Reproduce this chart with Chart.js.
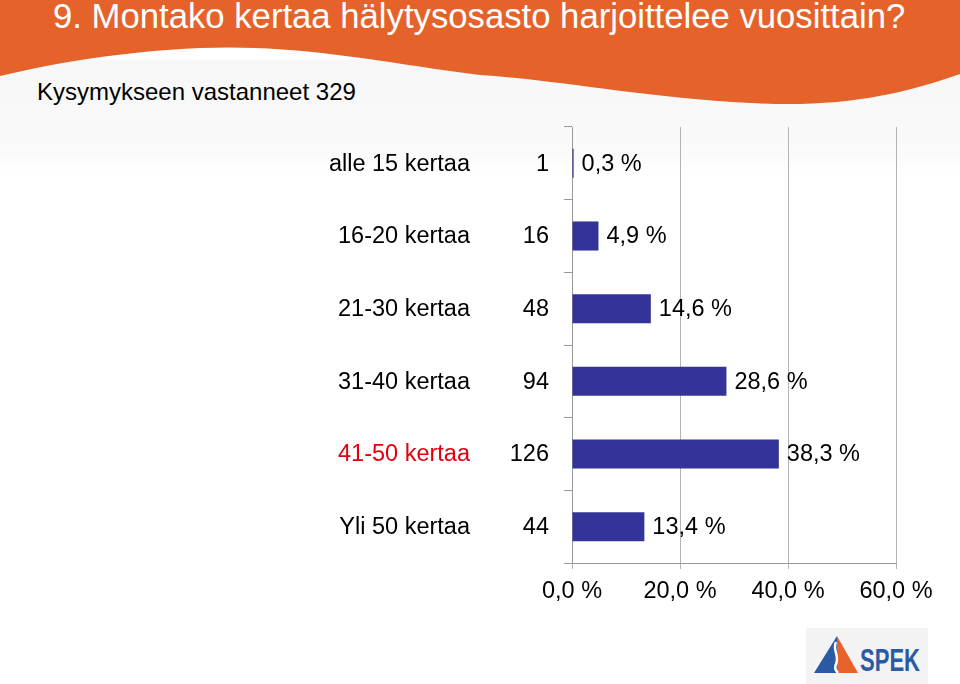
<!DOCTYPE html>
<html>
<head>
<meta charset="utf-8">
<script src="https://cdn.jsdelivr.net/npm/chart.js@4.4.1/dist/chart.umd.min.js"></script>
<style>
    body { margin: 0; background: #fff; }
    #wrap { position: relative; width: 960px; height: 684px; overflow: hidden; font-family: "Liberation Sans", Arial, sans-serif; }
    #band { position: absolute; left: 0; top: 60px; width: 960px; height: 116px; background: linear-gradient(#f7f7f7, #fafafa 80%, #fff); }
    #head { position: absolute; left: 0; top: 0; }
    #title { position: absolute; left: 53px; top: -1px; font-size: 34.7px; line-height: 1; color: #fff; white-space: nowrap; }
    #sub { position: absolute; left: 37px; top: 80px; font-size: 24px; line-height: 1; color: #000; white-space: nowrap; }
    #chartBox { position: absolute; left: 0; top: 0; width: 960px; height: 684px; }
    #logo { position: absolute; left: 806px; top: 628px; }
</style>
</head>
<body>
<div id="wrap">
    <div id="band"></div>
    <svg id="head" width="960" height="110">
        <path d="M0,0 H960 V74 C900,95 840,108 750,103 C640,97 560,80 480,75 C380,62 300,44 200,48 C120,52 60,62 0,76 Z" fill="#e5632a"/>
    </svg>
    <div id="title">9. Montako kertaa hälytysosasto harjoittelee vuosittain?</div>
    <div id="sub">Kysymykseen vastanneet 329</div>
    <div id="chartBox"><canvas id="myChart"></canvas></div>
    <svg id="logo" width="122" height="56">
        <rect x="0" y="0" width="122" height="56" fill="#f3f3f3"/>
        <polygon points="31,8 8,45 31,45" fill="#2b5aa5"/>
        <polygon points="31,8 52,45 31,45" fill="#e8632b"/>
        <path d="M30,14 C26,22 34,28 30,36 C28,40 30,43 32,45" stroke="#fff" stroke-width="2.5" fill="none"/>
        <text x="54" y="43" font-family="Liberation Sans, Arial, sans-serif" font-weight="bold" font-size="31" fill="#2b5aa5" textLength="60" lengthAdjust="spacingAndGlyphs">SPEK</text>
    </svg>
</div>
<script>
const categories = ["alle 15 kertaa", "16-20 kertaa", "21-30 kertaa", "31-40 kertaa", "41-50 kertaa", "Yli 50 kertaa"]
const counts = [1, 16, 48, 94, 126, 44]
const percents = [0.3, 4.9, 14.6, 28.6, 38.3, 13.4]
const xTicks = [0, 20, 40, 60]
const redCategory = "41-50 kertaa"

const fontFamily = '"Liberation Sans", Arial, sans-serif'

function pct(v) {
    return v.toFixed(1).replace('.', ',') + ' %'
}

const barLabels = {
    id: 'barLabels',
    afterDatasetsDraw(chart) {
        const ctx = chart.ctx
        const meta = chart.getDatasetMeta(0)
        ctx.save()
        ctx.font = '23.5px ' + fontFamily
        ctx.fillStyle = '#000'
        ctx.textAlign = 'left'
        ctx.textBaseline = 'middle'
        meta.data.forEach((bar, i) => {
            ctx.fillText(pct(percents[i]), bar.x + 8, bar.y + 1)
        })
        ctx.restore()
    }
}

new Chart("myChart", {
    type: "bar",
    data: {
        labels: counts.map(String),
        datasets: [{
            backgroundColor: '#333399',
            data: percents,
            categoryPercentage: 1,
            barPercentage: 0.4
        }]
    },
    options: {
        indexAxis: 'y',
        responsive: true,
        maintainAspectRatio: false,
        animation: false,
        layout: {
            padding: { top: 127, right: 64, bottom: 61, left: 0 }
        },
        scales: {
            x: {
                min: 0,
                max: 60,
                afterBuildTicks: s => { s.ticks = xTicks.map(v => ({ value: v })) },
                afterFit: s => { s.height = 60 },
                ticks: {
                    callback: v => pct(v),
                    color: '#000',
                    font: { size: 23.5, family: fontFamily },
                    padding: 8,
                    maxRotation: 0
                },
                grid: { color: '#b4b4b4', tickLength: 6 },
                border: { color: '#999' }
            },
            y: {
                weight: 0,
                position: 'left',
                offset: true,
                afterFit: s => { s.width = 92 },
                ticks: {
                    color: '#000',
                    font: { size: 23.5, family: fontFamily },
                    padding: 15,
                    labelOffset: 1
                },
                grid: { drawOnChartArea: false, offset: true, tickLength: 8, color: '#999' },
                border: { color: '#999' }
            },
            y2: {
                type: 'category',
                labels: categories,
                weight: 1,
                position: 'left',
                offset: true,
                afterFit: s => { s.width = 480 },
                ticks: {
                    color: ctx => categories[ctx.index] === redCategory ? '#e3000f' : '#000',
                    font: { size: 23.5, family: fontFamily },
                    padding: 10,
                    labelOffset: 1
                },
                grid: { display: false, drawTicks: false },
                border: { display: false }
            }
        },
        plugins: {
            legend: { display: false },
            tooltip: { enabled: false }
        }
    },
    plugins: [barLabels]
});
</script>
</body>
</html>
